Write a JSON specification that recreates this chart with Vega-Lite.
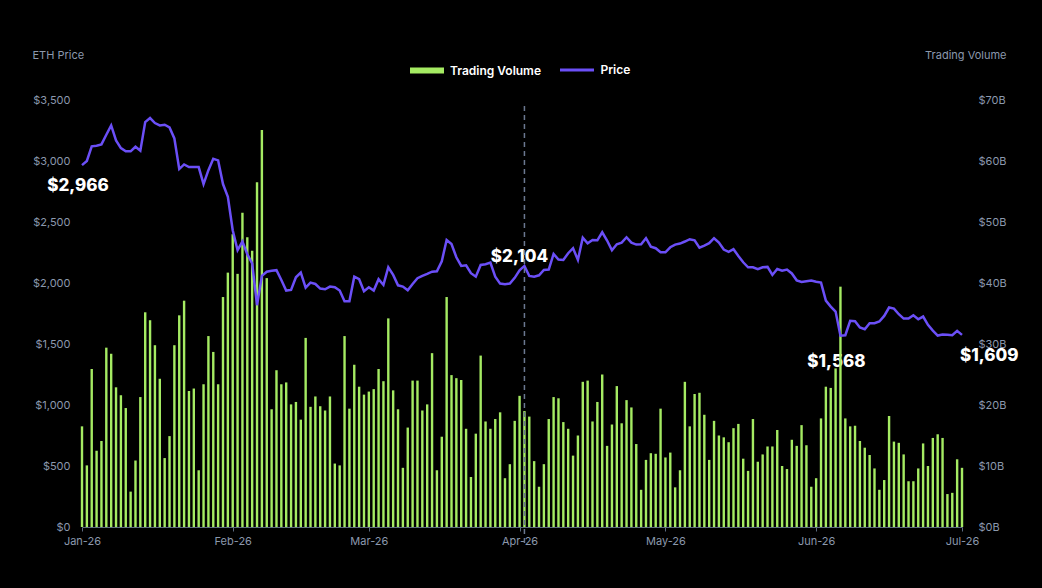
{
  "$schema": "https://vega.github.io/schema/vega-lite/v6.json",
  "autosize": {"type": "none"},
  "width": 880,
  "height": 427,
  "padding": {"left": 82, "top": 100, "right": 80, "bottom": 61},
  "background": "#000000",
  "config": {
    "font": "Inter",
    "view": {"stroke": null},
    "axis": {"grid": false, "labelColor": "#8b98ad", "titleColor": "#8b98ad", "labelFontSize": 11, "titleFontSize": 11, "titleFontWeight": "normal"},
    "text": {"color": "#ffffff", "fontSize": 17, "fontWeight": 800, "baseline": "middle"}
  },
  "datasets": {
    "notes": [
      {"date": "2026-01-01", "price": 2966, "label": "$2,966"},
      {"date": "2026-04-01", "price": 2104, "label": "$2,104"},
      {"date": "2026-06-06", "price": 1568, "label": "$1,568"},
      {"date": "2026-07-01", "price": 1609, "label": "$1,609"}
    ],
    "marker": [
      {"date": "2026-04-02", "top": 3450, "bottom": -150}
    ]
  },
  "data": {
    "values": [
      {"date": "2026-01-01", "price": 2966, "volume": 16.5},
      {"date": "2026-01-02", "price": 3000, "volume": 10.1},
      {"date": "2026-01-03", "price": 3120, "volume": 25.9},
      {"date": "2026-01-04", "price": 3125, "volume": 12.5},
      {"date": "2026-01-05", "price": 3136, "volume": 14.1},
      {"date": "2026-01-06", "price": 3215, "volume": 29.4},
      {"date": "2026-01-07", "price": 3292, "volume": 28.4},
      {"date": "2026-01-08", "price": 3169, "volume": 22.9},
      {"date": "2026-01-09", "price": 3106, "volume": 21.6},
      {"date": "2026-01-10", "price": 3079, "volume": 19.5},
      {"date": "2026-01-11", "price": 3079, "volume": 5.8},
      {"date": "2026-01-12", "price": 3117, "volume": 10.9},
      {"date": "2026-01-13", "price": 3084, "volume": 21.3},
      {"date": "2026-01-14", "price": 3319, "volume": 35.2},
      {"date": "2026-01-15", "price": 3352, "volume": 33.9},
      {"date": "2026-01-16", "price": 3311, "volume": 29.8},
      {"date": "2026-01-17", "price": 3292, "volume": 24.3},
      {"date": "2026-01-18", "price": 3297, "volume": 11.3},
      {"date": "2026-01-19", "price": 3275, "volume": 14.9},
      {"date": "2026-01-20", "price": 3185, "volume": 29.8},
      {"date": "2026-01-21", "price": 2934, "volume": 34.7},
      {"date": "2026-01-22", "price": 2972, "volume": 37.1},
      {"date": "2026-01-23", "price": 2950, "volume": 22.3},
      {"date": "2026-01-24", "price": 2950, "volume": 22.7},
      {"date": "2026-01-25", "price": 2950, "volume": 9.3},
      {"date": "2026-01-26", "price": 2811, "volume": 23.4},
      {"date": "2026-01-27", "price": 2925, "volume": 31.3},
      {"date": "2026-01-28", "price": 3018, "volume": 28.7},
      {"date": "2026-01-29", "price": 3005, "volume": 23.4},
      {"date": "2026-01-30", "price": 2811, "volume": 37.7},
      {"date": "2026-01-31", "price": 2707, "volume": 41.7},
      {"date": "2026-02-01", "price": 2433, "volume": 48.0},
      {"date": "2026-02-02", "price": 2269, "volume": 41.5},
      {"date": "2026-02-03", "price": 2340, "volume": 51.5},
      {"date": "2026-02-04", "price": 2236, "volume": 47.5},
      {"date": "2026-02-05", "price": 2160, "volume": 45.3},
      {"date": "2026-02-06", "price": 1818, "volume": 56.5},
      {"date": "2026-02-07", "price": 2059, "volume": 65.1},
      {"date": "2026-02-08", "price": 2092, "volume": 40.8},
      {"date": "2026-02-09", "price": 2100, "volume": 19.3},
      {"date": "2026-02-10", "price": 2105, "volume": 25.7},
      {"date": "2026-02-11", "price": 2025, "volume": 23.4},
      {"date": "2026-02-12", "price": 1938, "volume": 23.7},
      {"date": "2026-02-13", "price": 1943, "volume": 20.1},
      {"date": "2026-02-14", "price": 2047, "volume": 20.5},
      {"date": "2026-02-15", "price": 2085, "volume": 17.6},
      {"date": "2026-02-16", "price": 1962, "volume": 31.0},
      {"date": "2026-02-17", "price": 2003, "volume": 19.7},
      {"date": "2026-02-18", "price": 1992, "volume": 21.4},
      {"date": "2026-02-19", "price": 1954, "volume": 19.8},
      {"date": "2026-02-20", "price": 1949, "volume": 19.1},
      {"date": "2026-02-21", "price": 1971, "volume": 21.4},
      {"date": "2026-02-22", "price": 1965, "volume": 10.4},
      {"date": "2026-02-23", "price": 1938, "volume": 10.1},
      {"date": "2026-02-24", "price": 1850, "volume": 31.3},
      {"date": "2026-02-25", "price": 1850, "volume": 19.4},
      {"date": "2026-02-26", "price": 2052, "volume": 26.6},
      {"date": "2026-02-27", "price": 2031, "volume": 23.0},
      {"date": "2026-02-28", "price": 1932, "volume": 21.7},
      {"date": "2026-03-01", "price": 1965, "volume": 22.2},
      {"date": "2026-03-02", "price": 1938, "volume": 22.6},
      {"date": "2026-03-03", "price": 2031, "volume": 25.9},
      {"date": "2026-03-04", "price": 1984, "volume": 23.9},
      {"date": "2026-03-05", "price": 2129, "volume": 34.2},
      {"date": "2026-03-06", "price": 2066, "volume": 22.4},
      {"date": "2026-03-07", "price": 1981, "volume": 19.3},
      {"date": "2026-03-08", "price": 1971, "volume": 9.7},
      {"date": "2026-03-09", "price": 1940, "volume": 16.3},
      {"date": "2026-03-10", "price": 1992, "volume": 24.0},
      {"date": "2026-03-11", "price": 2039, "volume": 24.0},
      {"date": "2026-03-12", "price": 2058, "volume": 19.1},
      {"date": "2026-03-13", "price": 2074, "volume": 20.1},
      {"date": "2026-03-14", "price": 2093, "volume": 28.5},
      {"date": "2026-03-15", "price": 2096, "volume": 9.3},
      {"date": "2026-03-16", "price": 2178, "volume": 14.8},
      {"date": "2026-03-17", "price": 2353, "volume": 37.7},
      {"date": "2026-03-18", "price": 2320, "volume": 24.9},
      {"date": "2026-03-19", "price": 2211, "volume": 24.4},
      {"date": "2026-03-20", "price": 2140, "volume": 24.1},
      {"date": "2026-03-21", "price": 2145, "volume": 16.1},
      {"date": "2026-03-22", "price": 2080, "volume": 8.2},
      {"date": "2026-03-23", "price": 2052, "volume": 15.3},
      {"date": "2026-03-24", "price": 2148, "volume": 28.1},
      {"date": "2026-03-25", "price": 2154, "volume": 17.3},
      {"date": "2026-03-26", "price": 2167, "volume": 16.1},
      {"date": "2026-03-27", "price": 2052, "volume": 17.7},
      {"date": "2026-03-28", "price": 1995, "volume": 18.8},
      {"date": "2026-03-29", "price": 1990, "volume": 8.0},
      {"date": "2026-03-30", "price": 1995, "volume": 10.3},
      {"date": "2026-03-31", "price": 2042, "volume": 17.4},
      {"date": "2026-04-01", "price": 2104, "volume": 21.5},
      {"date": "2026-04-02", "price": 2140, "volume": 19.0},
      {"date": "2026-04-03", "price": 2058, "volume": 18.1},
      {"date": "2026-04-04", "price": 2052, "volume": 10.8},
      {"date": "2026-04-05", "price": 2063, "volume": 6.6},
      {"date": "2026-04-06", "price": 2107, "volume": 10.3},
      {"date": "2026-04-07", "price": 2110, "volume": 17.7},
      {"date": "2026-04-08", "price": 2238, "volume": 21.3},
      {"date": "2026-04-09", "price": 2192, "volume": 21.1},
      {"date": "2026-04-10", "price": 2189, "volume": 17.2},
      {"date": "2026-04-11", "price": 2244, "volume": 16.1},
      {"date": "2026-04-12", "price": 2285, "volume": 11.7},
      {"date": "2026-04-13", "price": 2189, "volume": 15.0},
      {"date": "2026-04-14", "price": 2372, "volume": 23.8},
      {"date": "2026-04-15", "price": 2326, "volume": 24.0},
      {"date": "2026-04-16", "price": 2353, "volume": 17.3},
      {"date": "2026-04-17", "price": 2350, "volume": 20.5},
      {"date": "2026-04-18", "price": 2416, "volume": 25.0},
      {"date": "2026-04-19", "price": 2348, "volume": 13.3},
      {"date": "2026-04-20", "price": 2268, "volume": 16.8},
      {"date": "2026-04-21", "price": 2318, "volume": 23.1},
      {"date": "2026-04-22", "price": 2331, "volume": 17.0},
      {"date": "2026-04-23", "price": 2375, "volume": 20.8},
      {"date": "2026-04-24", "price": 2331, "volume": 19.6},
      {"date": "2026-04-25", "price": 2315, "volume": 13.6},
      {"date": "2026-04-26", "price": 2318, "volume": 6.1},
      {"date": "2026-04-27", "price": 2367, "volume": 11.0},
      {"date": "2026-04-28", "price": 2298, "volume": 12.1},
      {"date": "2026-04-29", "price": 2285, "volume": 12.0},
      {"date": "2026-04-30", "price": 2252, "volume": 19.4},
      {"date": "2026-05-01", "price": 2252, "volume": 11.4},
      {"date": "2026-05-02", "price": 2293, "volume": 12.2},
      {"date": "2026-05-03", "price": 2315, "volume": 6.5},
      {"date": "2026-05-04", "price": 2323, "volume": 9.3},
      {"date": "2026-05-05", "price": 2340, "volume": 23.8},
      {"date": "2026-05-06", "price": 2359, "volume": 16.5},
      {"date": "2026-05-07", "price": 2350, "volume": 21.8},
      {"date": "2026-05-08", "price": 2290, "volume": 22.0},
      {"date": "2026-05-09", "price": 2307, "volume": 18.4},
      {"date": "2026-05-10", "price": 2326, "volume": 11.0},
      {"date": "2026-05-11", "price": 2367, "volume": 17.4},
      {"date": "2026-05-12", "price": 2331, "volume": 15.0},
      {"date": "2026-05-13", "price": 2274, "volume": 14.7},
      {"date": "2026-05-14", "price": 2255, "volume": 13.9},
      {"date": "2026-05-15", "price": 2277, "volume": 16.2},
      {"date": "2026-05-16", "price": 2222, "volume": 16.9},
      {"date": "2026-05-17", "price": 2170, "volume": 11.2},
      {"date": "2026-05-18", "price": 2129, "volume": 9.2},
      {"date": "2026-05-19", "price": 2129, "volume": 17.7},
      {"date": "2026-05-20", "price": 2113, "volume": 10.7},
      {"date": "2026-05-21", "price": 2129, "volume": 11.9},
      {"date": "2026-05-22", "price": 2132, "volume": 13.2},
      {"date": "2026-05-23", "price": 2066, "volume": 13.2},
      {"date": "2026-05-24", "price": 2115, "volume": 15.9},
      {"date": "2026-05-25", "price": 2101, "volume": 10.0},
      {"date": "2026-05-26", "price": 2110, "volume": 9.5},
      {"date": "2026-05-27", "price": 2078, "volume": 14.3},
      {"date": "2026-05-28", "price": 2022, "volume": 13.3},
      {"date": "2026-05-29", "price": 2009, "volume": 16.7},
      {"date": "2026-05-30", "price": 2015, "volume": 13.4},
      {"date": "2026-05-31", "price": 2020, "volume": 6.6},
      {"date": "2026-06-01", "price": 2011, "volume": 8.0},
      {"date": "2026-06-02", "price": 2003, "volume": 17.8},
      {"date": "2026-06-03", "price": 1856, "volume": 23.0},
      {"date": "2026-06-04", "price": 1807, "volume": 22.8},
      {"date": "2026-06-05", "price": 1766, "volume": 26.0},
      {"date": "2026-06-06", "price": 1568, "volume": 39.4},
      {"date": "2026-06-07", "price": 1572, "volume": 17.8},
      {"date": "2026-06-08", "price": 1690, "volume": 16.5},
      {"date": "2026-06-09", "price": 1687, "volume": 16.6},
      {"date": "2026-06-10", "price": 1635, "volume": 14.1},
      {"date": "2026-06-11", "price": 1621, "volume": 13.0},
      {"date": "2026-06-12", "price": 1670, "volume": 11.8},
      {"date": "2026-06-13", "price": 1670, "volume": 9.6},
      {"date": "2026-06-14", "price": 1684, "volume": 6.1},
      {"date": "2026-06-15", "price": 1730, "volume": 7.7},
      {"date": "2026-06-16", "price": 1799, "volume": 18.2},
      {"date": "2026-06-17", "price": 1790, "volume": 14.0},
      {"date": "2026-06-18", "price": 1744, "volume": 13.8},
      {"date": "2026-06-19", "price": 1708, "volume": 11.9},
      {"date": "2026-06-20", "price": 1708, "volume": 7.5},
      {"date": "2026-06-21", "price": 1736, "volume": 7.5},
      {"date": "2026-06-22", "price": 1703, "volume": 9.6},
      {"date": "2026-06-23", "price": 1725, "volume": 13.7},
      {"date": "2026-06-24", "price": 1657, "volume": 10.0},
      {"date": "2026-06-25", "price": 1610, "volume": 14.6},
      {"date": "2026-06-26", "price": 1569, "volume": 15.2},
      {"date": "2026-06-27", "price": 1577, "volume": 14.6},
      {"date": "2026-06-28", "price": 1575, "volume": 5.4},
      {"date": "2026-06-29", "price": 1572, "volume": 5.6},
      {"date": "2026-06-30", "price": 1608, "volume": 11.1},
      {"date": "2026-07-01", "price": 1575, "volume": 9.7}
    ]
  },
  "encoding": {
    "x": {
      "field": "date",
      "type": "temporal",
      "title": null,
      "scale": {
        "type": "utc",
        "padding": 0,
        "domain": [
          {"year": 2026, "month": 1, "date": 1, "utc": true},
          {"year": 2026, "month": 7, "date": 1, "utc": true}
        ]
      },
      "axis": {
        "format": "%b-%y",
        "tickCount": {"interval": "month", "step": 1},
        "domainColor": "#5d6b80",
        "tickColor": "#5d6b80",
        "tickSize": 4,
        "labelPadding": 4,
        "labelFlush": false
      }
    }
  },
  "layer": [
    {
      "data": {"name": "notes"},
      "encoding": {
        "y": {"field": "price", "type": "quantitative", "scale": {"domain": [0, 3500], "nice": false}, "axis": null},
        "text": {"field": "label"}
      },
      "layer": [
        {
          "transform": [{"filter": "datum.label == '$2,966'"}],
          "mark": {"type": "text", "align": "center", "dx": -4, "dy": 21}
        },
        {
          "transform": [{"filter": "datum.label == '$2,104'"}],
          "mark": {"type": "text", "align": "center", "dx": 0, "dy": -13}
        },
        {
          "transform": [{"filter": "datum.label == '$1,568'"}],
          "mark": {"type": "text", "align": "center", "dx": -4, "dy": 26}
        },
        {
          "transform": [{"filter": "datum.label == '$1,609'"}],
          "mark": {"type": "text", "align": "left", "dx": -2, "dy": 25}
        }
      ]
    },
    {
      "mark": {"type": "bar", "width": 2.4},
      "encoding": {
        "y": {
          "field": "volume",
          "type": "quantitative",
          "scale": {"domain": [0, 70], "nice": false},
          "axis": {
            "orient": "right",
            "title": "Trading Volume",
            "titleAngle": 0,
            "titleAlign": "right",
            "titleBaseline": "middle",
            "titleX": 44,
            "titleY": -45,
            "values": [0, 10, 20, 30, 40, 50, 60, 70],
            "labelExpr": "'$' + datum.value + 'B'",
            "labelPadding": 16,
            "ticks": false,
            "domain": false
          }
        },
        "color": {
          "datum": "Trading Volume",
          "scale": {"range": ["#a5eb63"]},
          "legend": {
            "orient": "none",
            "legendX": 328,
            "legendY": -46.5,
            "title": null,
            "padding": 0,
            "symbolType": "M-1,-0.18L1,-0.18L1,0.18L-1,0.18Z",
            "symbolSize": 1156,
            "symbolStrokeWidth": 0,
            "labelColor": "#ffffff",
            "labelFontSize": 12,
            "labelFontWeight": 600,
            "labelOffset": 6
          }
        }
      }
    },
    {
      "layer": [
        {
          "mark": {"type": "line", "strokeWidth": 2.5},
          "encoding": {
            "y": {
              "field": "price",
              "type": "quantitative",
              "scale": {"domain": [0, 3500], "nice": false},
              "axis": {
                "orient": "left",
                "title": "ETH Price",
                "titleAngle": 0,
                "titleAlign": "left",
                "titleBaseline": "middle",
                "titleX": -50,
                "titleY": -45,
                "values": [0, 500, 1000, 1500, 2000, 2500, 3000, 3500],
                "format": "$,.0f",
                "labelPadding": 12,
                "ticks": false,
                "domain": false
              }
            },
            "stroke": {
              "datum": "Price",
              "scale": {"range": ["#6b4ff7"]},
              "legend": {
                "orient": "none",
                "legendX": 476.5,
                "legendY": -48.5,
                "title": null,
                "padding": 0,
                "symbolType": "stroke",
                "symbolSize": 1156,
                "symbolStrokeWidth": 3,
                "labelColor": "#ffffff",
                "labelFontSize": 12,
                "labelFontWeight": 600,
                "labelOffset": 5
              }
            }
          }
        },
        {
          "data": {"name": "marker"},
          "mark": {"type": "rule", "color": "#6b7890", "strokeWidth": 1.5, "strokeDash": [5, 4]},
          "encoding": {
            "y": {"field": "top", "type": "quantitative", "title": "ETH Price"},
            "y2": {"field": "bottom"}
          }
        }
      ]
    }
  ],
  "resolve": {"scale": {"y": "independent"}}
}
